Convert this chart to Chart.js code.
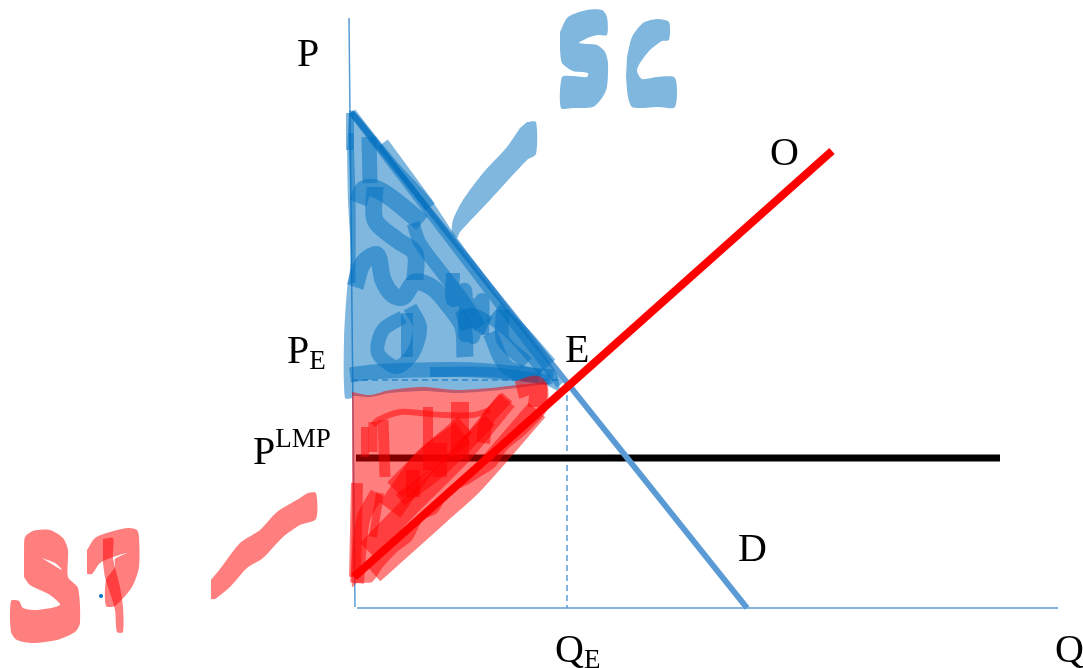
<!DOCTYPE html>
<html>
<head>
<meta charset="utf-8">
<title>SC and SP under LMP</title>
<script src="https://cdn.jsdelivr.net/npm/chart.js@4/dist/chart.umd.min.js"></script>
<style>
html, body { margin: 0; padding: 0; background: #fff; }
canvas { display: block; }
</style>
</head>
<body>
<canvas id="diagram" width="1083" height="668"></canvas>
<script>
// Diagram units are the picture's own, origin top left
// Axes and curves
const axisP = [[349, 18], [355, 607]];
const axisQ = [[357, 608], [1058, 608]];
const demand = [[351, 112], [747, 608]];
const offer = [[354, 577], [832, 151]];
const lmp = [[356, 458], [1000, 458]];
const guidePE = [[352, 380], [567, 380]];
const guideQE = [[567, 385], [567, 608]];

// Hand drawn highlighter areas
const blueArea = [[349, 110], [356, 113], [400, 165], [430, 198], [455, 235], [500, 295], [530, 335], [555, 370], [559, 382], [559, 391], [545, 385], [517, 388], [490, 391], [457, 393], [423, 391], [390, 393], [370, 397], [352, 396], [352, 398], [345, 398], [344, 340], [347, 290], [351, 260], [348, 200], [347, 150]];
const redArea = [[352, 392], [370, 395], [390, 390], [423, 387], [457, 390], [490, 388], [517, 385], [537, 383], [547, 383], [547, 410], [527, 433], [507, 450], [495, 467], [480, 477], [467, 485], [450, 493], [437, 513], [423, 520], [412, 540], [397, 552], [383, 567], [372, 582], [357, 583], [352, 587], [352, 503], [352, 437]];
const blueArrow = [[527, 122], [536, 122], [536, 154], [527, 160], [490, 200], [460, 232], [457, 238], [452, 233], [453, 220], [463, 200], [483, 173], [507, 147], [520, 128]];
const redArrow = [[211, 580], [220, 569], [240, 543], [260, 530], [277, 512], [300, 498], [308, 493], [316, 493], [316, 519], [300, 525], [283, 537], [263, 558], [247, 568], [230, 587], [215, 599], [211, 599]];
const letterS = [[560, 32], [568, 17], [587, 10], [602, 10], [607, 17], [607, 35], [598, 35], [590, 37], [579, 43], [597, 45], [605, 52], [608, 63], [607, 87], [602, 98], [593, 107], [573, 108], [561, 108], [562, 77], [573, 76], [587, 77], [588, 73], [573, 71], [562, 63], [560, 50]];
const letterC = [[627, 57], [632, 37], [643, 23], [657, 19], [669, 22], [669, 40], [662, 41], [650, 50], [640, 63], [637, 71], [642, 79], [657, 77], [675, 78], [675, 107], [657, 107], [643, 108], [632, 107], [628, 97], [626, 77]];
const letterSred = [[24, 550], [25, 537], [33, 531], [50, 530], [63, 538], [68, 550], [68, 577], [78, 588], [80, 623], [75, 632], [57, 640], [33, 643], [17, 640], [11, 632], [11, 601], [19, 601], [23, 608], [37, 610], [60, 605], [50, 595], [30, 585], [24, 577]];
const letterSredHole = [[42, 558], [55, 563], [62, 570], [50, 563]];
const letterP = [[87, 550], [95, 538], [110, 532], [128, 528], [137, 530], [139, 537], [139, 567], [132, 587], [115, 606], [106, 606], [106, 580], [115, 567], [115, 559], [127, 553], [113, 557], [100, 563], [92, 574], [87, 574]];
const letterPbar = [[103, 539], [113, 538], [113, 558], [120, 587], [123, 607], [123, 632], [117, 632], [115, 610], [110, 593], [105, 577], [103, 563]];

// Scribble strokes, each one with its pen width
const blueStrokes = [
    [[352, 112], [560, 385]],
    [[383, 143], [430, 207]],
    [[350, 113], [350, 150]],
    [[351, 133], [353, 200], [353, 283]],
    [[369, 137], [370, 183]],
    [[358, 203], [363, 190], [373, 188], [390, 197], [422, 223]],
    [[375, 187], [375, 220], [397, 240], [415, 253], [415, 280]],
    [[413, 223], [420, 243], [440, 270], [463, 300], [480, 327]],
    [[355, 287], [363, 263], [377, 255], [383, 280], [393, 295], [403, 297], [415, 282], [433, 288], [450, 307], [463, 327], [465, 357]],
    [[403, 317], [383, 330], [378, 353], [397, 367], [413, 353], [420, 327], [410, 307]],
    [[407, 313], [407, 357]],
    [[350, 375], [373, 372], [420, 370], [473, 370], [553, 377]],
    [[453, 273], [453, 300], [465, 290], [465, 335], [473, 305], [473, 337], [482, 300], [482, 335]],
    [[493, 313], [517, 333], [547, 367]],
    [[503, 310], [503, 340], [527, 363]],
    [[490, 333], [507, 367], [540, 377]],
    [[458, 322], [472, 318], [488, 326]],
    [[430, 372], [490, 372], [550, 380]]
];
const blueWidths = [8, 12, 8, 5, 15, 18, 17, 13, 17, 14, 12, 15, 14, 22, 14, 15, 20, 10];
const redStrokes = [
    [[373, 425], [378, 420], [400, 412], [420, 413], [443, 415], [473, 415], [490, 410]],
    [[365, 427], [365, 457]],
    [[373, 422], [373, 452]],
    [[383, 420], [385, 477]],
    [[428, 407], [428, 470]],
    [[460, 402], [460, 460]],
    [[390, 510], [427, 460], [463, 433]],
    [[367, 550], [413, 503], [463, 453], [507, 400]],
    [[357, 583], [363, 520], [377, 493]],
    [[357, 483], [355, 577]],
    [[380, 493], [373, 537]],
    [[483, 443], [487, 420], [507, 397]],
    [[517, 390], [537, 385], [537, 407]],
    [[373, 573], [440, 513], [473, 483], [537, 410]],
    [[413, 497], [413, 470]],
    [[440, 477], [440, 443]],
    [[395, 490], [430, 455], [465, 425]],
    [[400, 500], [440, 470], [490, 420]]
];
const redWidths = [6, 8, 9, 11, 10, 18, 26, 20, 14, 12, 8, 14, 18, 22, 14, 14, 22, 14];
const strayDot = [[101, 596]];

// Text labels, main letter with an optional small part
const labelMain = ['P', 'O', 'E', 'P', 'P', 'D', 'Q', 'Q'];
const labelSmall = ['', '', '', 'E', 'LMP', '', 'E', ''];
const labelSmallRaised = [false, false, false, false, true, false, false, false];
const labelX = [297, 770, 565, 287, 253, 738, 555, 1055];
const labelY = [66, 165, 362, 363, 464, 561, 662, 662];

const BLUE_INK = 'rgba(0, 112, 192, 0.5)';
const RED_INK = 'rgba(255, 0, 0, 0.5)';
const LINE_BLUE = '#5b9bd5';

function curve(data, color, width, dash) {
    return {
        data,
        showLine: true,
        borderColor: color,
        borderWidth: width,
        borderDash: dash || [],
        pointRadius: 0,
        fill: false
    };
}

function area(data, color) {
    return {
        data,
        showLine: true,
        borderWidth: 0,
        borderColor: 'transparent',
        backgroundColor: color,
        pointRadius: 0,
        tension: 0.25,
        fill: 'shape'
    };
}

function stroke(data, color, width) {
    let line = curve(data, color, width);
    line.borderCapStyle = 'butt';
    line.borderJoinStyle = 'round';
    line.tension = 0.3;
    return line;
}

// Written in painting order, reversed below since Chart.js paints the first dataset last
let layers = [
    curve(axisP, LINE_BLUE, 1.5),
    curve(axisQ, LINE_BLUE, 1.5),
    curve(guidePE, LINE_BLUE, 1.5, [6, 4]),
    curve(guideQE, LINE_BLUE, 1.5, [6, 4]),
    curve(lmp, '#000000', 7),
    curve(demand, LINE_BLUE, 6),
    area(blueArea, BLUE_INK),
    ...blueStrokes.map((s, i) => stroke(s, BLUE_INK, blueWidths[i])),
    area(redArea, RED_INK),
    ...redStrokes.map((s, i) => stroke(s, RED_INK, redWidths[i])),
    curve(offer, '#ff0000', 8),
    area(blueArrow, BLUE_INK),
    area(letterS, BLUE_INK),
    area(letterC, BLUE_INK),
    area(redArrow, RED_INK),
    area(letterSred, RED_INK),
    area(letterSredHole, '#ffffff'),
    area(letterP, RED_INK),
    area(letterPbar, RED_INK),
    { data: strayDot, pointRadius: 2, pointBackgroundColor: '#0070c0', pointBorderWidth: 0 }
];

const textLabels = {
    id: 'textLabels',
    afterDraw(chart) {
        let ctx = chart.ctx;
        let sx = chart.scales.x;
        let sy = chart.scales.y;
        ctx.save();
        ctx.fillStyle = '#000';
        ctx.textBaseline = 'alphabetic';
        labelMain.forEach((text, i) => {
            let px = sx.getPixelForValue(labelX[i]);
            let py = sy.getPixelForValue(labelY[i]);
            ctx.font = '40px "Liberation Serif"';
            ctx.fillText(text, px, py);
            if (labelSmall[i]) {
                let w = ctx.measureText(text).width;
                ctx.font = '27px "Liberation Serif"';
                ctx.fillText(labelSmall[i], px + w, py + (labelSmallRaised[i] ? -17 : 6));
            }
        });
        ctx.restore();
    }
};

new Chart(document.getElementById('diagram').getContext('2d'), {
    type: 'scatter',
    data: { datasets: layers.reverse() },
    plugins: [textLabels],
    options: {
        responsive: false,
        animation: false,
        events: [],
        layout: { padding: 0, autoPadding: false },
        plugins: {
            legend: { display: false },
            tooltip: { enabled: false }
        },
        scales: {
            x: { type: 'linear', display: false, min: 0, max: 1083 },
            y: { type: 'linear', display: false, min: 0, max: 668, reverse: true }
        }
    }
});
</script>
</body>
</html>
